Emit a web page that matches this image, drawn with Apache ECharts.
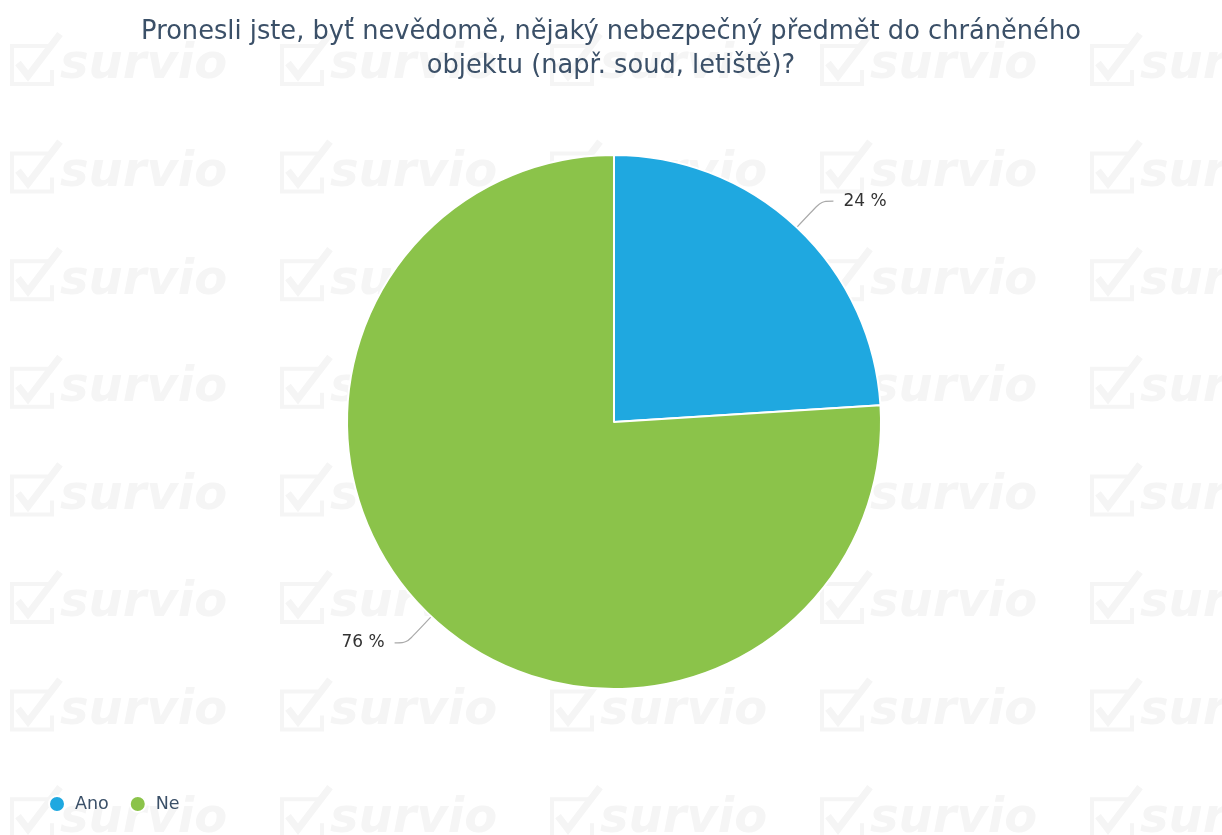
<!DOCTYPE html>
<html>
<head>
<meta charset="utf-8">
<script src="https://cdn.jsdelivr.net/npm/echarts@6/dist/echarts.min.js"></script>
<style>
  html, body { margin: 0; padding: 0; background: #fff; }
  #chart { width: 1222px; height: 835px; }
</style>
</head>
<body>
<div id="chart"></div>
<script>
const titleText = "Pronesli jste, byť nevědomě, nějaký nebezpečný předmět do chráněného\nobjektu (např. soud, letiště)?";
const answers = ["Ano", "Ne"];
const shares = [24, 76];
const colors = ["#1fa8e0", "#8bc34a"];

// watermark "survio" tiles in the background
const marks = [];
for (let c = 0; c < 5; c++) {
  for (let r = 0; r < 8; r++) {
    marks.push({
      type: "group",
      x: c * 270,
      y: 84 + r * 107.6,
      silent: true,
      children: [
        {
          type: "polyline",
          shape: { points: [[48, -38], [12, -38], [12, 0], [52, 0], [52, -14]] },
          style: { stroke: "#f5f5f5", lineWidth: 4, fill: null },
        },
        {
          type: "polyline",
          shape: { points: [[18, -21], [28, -8], [60, -50]] },
          style: { stroke: "#f5f5f5", lineWidth: 7, fill: null },
        },
        {
          type: "text",
          x: 60,
          y: 6,
          style: {
            text: "survio",
            fill: "#f5f5f5",
            font: "italic bold 48px 'DejaVu Sans'",
            verticalAlign: "bottom",
          },
        },
      ],
    });
  }
}

const myChart = echarts.init(document.getElementById("chart"));
myChart.setOption({
  animation: false,
  title: {
    text: titleText,
    left: "center",
    top: 10,
    textStyle: {
      color: "#3b5068",
      fontFamily: "DejaVu Sans",
      fontWeight: "normal",
      fontSize: 25.7,
      lineHeight: 34,
    },
  },
  graphic: marks,
  legend: {
    left: 43,
    top: 790,
    icon: "circle",
    itemWidth: 16,
    itemHeight: 16,
    itemGap: 20,
    textStyle: {
      color: "#3b5068",
      fontFamily: "DejaVu Sans",
      fontSize: 17.5,
      padding: [0, 0, 0, 5],
    },
    data: answers,
  },
  series: [
    {
      type: "pie",
      center: [614, 422],
      radius: 267,
      startAngle: 90,
      clockwise: true,
      color: colors,
      itemStyle: { borderColor: "#fff", borderWidth: 2 },
      label: {
        formatter: "{c} %",
        color: "#333",
        fontFamily: "DejaVu Sans",
        fontSize: 17,
        distanceToLabelLine: 10,
      },
      labelLine: {
        length: 36,
        length2: 12,
        smooth: 0.3,
        lineStyle: { color: "#aaa", width: 1.2 },
      },
      data: answers.map((a, i) => ({ name: a, value: shares[i] })),
    },
  ],
});
</script>
</body>
</html>
